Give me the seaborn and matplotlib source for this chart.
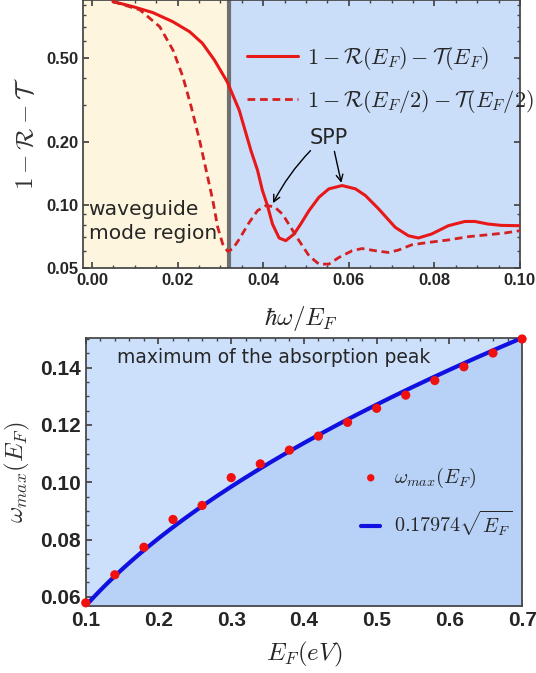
import numpy as np
import pandas as pd
import matplotlib
matplotlib.use("Agg")
import matplotlib.pyplot as plt
import seaborn as sns
from matplotlib.ticker import MultipleLocator, FixedLocator, LogLocator, NullFormatter

# ---------------- data ----------------
x_solid = [0.00488, 0.00953, 0.01419, 0.01884, 0.0228, 0.0258, 0.0286, 0.0316, 0.0344,
           0.03714, 0.03867, 0.03981, 0.0410, 0.04216, 0.04372, 0.04527, 0.04721,
           0.04877, 0.0507, 0.05302, 0.05535, 0.05844, 0.06156, 0.06388, 0.06698,
           0.07086, 0.07395, 0.07628, 0.07937, 0.08326, 0.08714, 0.08947, 0.09256,
           0.09565, 0.1000]
y_solid = [0.930, 0.880, 0.824, 0.746, 0.668, 0.588, 0.489, 0.385, 0.282,
           0.181, 0.146, 0.117, 0.099, 0.0809, 0.0694, 0.0674, 0.0725,
           0.0809, 0.0937, 0.1085, 0.119, 0.1234, 0.119, 0.1106, 0.0955,
           0.078, 0.0711, 0.0694, 0.0725, 0.0794, 0.0832, 0.0832, 0.0809,
           0.0797, 0.0794]

x_dash = [0.00488, 0.01116, 0.01581, 0.01891, 0.02123, 0.02319, 0.02512, 0.02667,
          0.02821, 0.02937, 0.03053, 0.0317, 0.03286, 0.03442, 0.03674, 0.03867,
          0.04063, 0.04256, 0.04449, 0.04644, 0.04837, 0.0507, 0.05302, 0.05535,
          0.05767, 0.06077, 0.0631, 0.06698, 0.0693, 0.07163, 0.07472, 0.0786,
          0.08326, 0.08791, 0.09256, 0.09644, 0.1000]
y_dash = [0.930, 0.849, 0.706, 0.546, 0.407, 0.292, 0.203, 0.146,
          0.105, 0.078, 0.065, 0.0599, 0.0615, 0.0686, 0.0824, 0.0937,
          0.099, 0.0979, 0.0903, 0.078, 0.0674, 0.0571, 0.0521, 0.0521,
          0.056, 0.0603, 0.0618, 0.0600, 0.0592, 0.0608, 0.0644, 0.0661,
          0.0679, 0.0704, 0.0719, 0.0733, 0.0752]

waveguide_edge = 0.032
spp_points = [(0.0420, 0.099), (0.0584, 0.1234)]

EF = [0.10, 0.14, 0.18, 0.22, 0.26, 0.30, 0.34, 0.38, 0.42, 0.46, 0.50, 0.54,
      0.58, 0.62, 0.66, 0.70]
wmax = [0.0579, 0.0677, 0.0773, 0.0870, 0.0919, 0.1016, 0.1064, 0.1112, 0.1161,
        0.1209, 0.1258, 0.1304, 0.1355, 0.1403, 0.1451, 0.1500]
fit_coef = 0.17974

top_xticks = [0.00, 0.02, 0.04, 0.06, 0.08, 0.10]
top_yticks = [0.05, 0.10, 0.20, 0.50]
bot_xticks = [0.1, 0.2, 0.3, 0.4, 0.5, 0.6, 0.7]
bot_yticks = [0.06, 0.08, 0.10, 0.12, 0.14]

# ---------------- style ----------------
sns.set_theme(style="ticks")
plt.rcParams["font.family"] = ["DejaVu Sans"]
plt.rcParams["mathtext.fontset"] = "cm"

YELLOW = "#FDF5DE"
BLUE_TOP = "#CADEFA"
BLUE_LIGHT = "#CCE0FB"
BLUE_DARK = "#B8D2F7"
SPINE = "#444444"

fig = plt.figure(figsize=(5.36, 6.73), dpi=100)
ax1 = fig.add_axes([0.155, 0.602, 0.815, 0.398])
ax2 = fig.add_axes([0.160, 0.0996, 0.814, 0.3984])

# ---------------- top panel ----------------
df_s = pd.DataFrame({"x": x_solid, "y": y_solid})
df_d = pd.DataFrame({"x": x_dash, "y": y_dash})

ax1.set_yscale("log")
ax1.set_xlim(-0.0021, 0.1)
ax1.set_ylim(0.05, 0.946)
ax1.axvspan(-0.01, waveguide_edge, color=YELLOW, zorder=0, lw=0)
ax1.axvspan(waveguide_edge, 0.2, color=BLUE_TOP, zorder=0, lw=0)
ax1.axvline(waveguide_edge, color="#707070", lw=3, zorder=1)

sns.lineplot(data=df_s, x="x", y="y", ax=ax1, color="#E81818", lw=2.2,
             label=r"$1-\mathcal{R}(E_F)-\mathcal{T}(E_F)$", sort=False, zorder=3)
sns.lineplot(data=df_d, x="x", y="y", ax=ax1, color="#D42020", lw=2.0,
             linestyle=(0, (2.8, 1.7)), sort=False, zorder=3,
             label=r"$1-\mathcal{R}(E_F/2)-\mathcal{T}(E_F/2)$")
for ln in ax1.get_lines():
    ln.set_solid_joinstyle("round")
    ln.set_solid_capstyle("round")

ax1.set_xticks(top_xticks)
ax1.set_xticklabels([f"{v:.2f}" for v in top_xticks])
ax1.xaxis.set_minor_locator(MultipleLocator(0.005))
ax1.yaxis.set_major_locator(FixedLocator(top_yticks))
ax1.set_yticklabels([f"{v:.2f}" for v in top_yticks])
ax1.yaxis.set_minor_locator(LogLocator(base=10, subs=np.arange(2, 10)))
ax1.yaxis.set_minor_formatter(NullFormatter())
ax1.tick_params(which="both", direction="in", top=True, right=True, color=SPINE)
ax1.tick_params(which="major", length=4)
ax1.tick_params(which="minor", length=2.5)
for lab in ax1.get_xticklabels() + ax1.get_yticklabels():
    lab.set_fontfamily("Liberation Sans")
    lab.set_fontsize(12)
    lab.set_fontweight("semibold")
ax1.set_xlabel(r"$\hbar\omega/E_F$", fontsize=18, labelpad=12)
ax1.set_ylabel(r"$1-\mathcal{R}-\mathcal{T}$", fontsize=18, labelpad=6, color="#333333")
for sp in ax1.spines.values():
    sp.set_color(SPINE)

ax1.text(-0.0008, 0.083, "waveguide\nmode region", fontsize=14.6, va="center",
         ha="left", linespacing=1.3, zorder=4)

ax1.annotate("", xy=spp_points[0], xytext=(0.0515, 0.185),
             arrowprops=dict(arrowstyle="->", color="black", lw=1,
                             connectionstyle="arc3,rad=0.08"), zorder=5)
ax1.annotate("", xy=spp_points[1], xytext=(0.0565, 0.185),
             arrowprops=dict(arrowstyle="->", color="black", lw=1), zorder=5)
ax1.text(0.0553, 0.207, "SPP", fontsize=15, ha="center", va="center", zorder=5)

leg1 = ax1.legend(loc="center left", bbox_to_anchor=(0.424, 0.881),
                  bbox_transform=fig.transFigure, frameon=False, fontsize=16,
                  handlelength=2.3, handletextpad=0.4, labelspacing=0.72)

# ---------------- bottom panel ----------------
df_p = pd.DataFrame({"EF": EF, "wmax": wmax})
e_grid = np.linspace(0.1, 0.7, 200)
df_fit = pd.DataFrame({"EF": e_grid, "fit": fit_coef * np.sqrt(e_grid)})

ax2.set_facecolor(BLUE_LIGHT)
ax2.set_xlim(0.1, 0.7)
ax2.set_ylim(0.0568, 0.1504)
ax2.fill_between(df_fit["EF"], df_fit["fit"], 0, color=BLUE_DARK, lw=0, zorder=1)
sns.lineplot(data=df_fit, x="EF", y="fit", ax=ax2, color="#1010E0", lw=3,
             label=r"$0.17974\sqrt{E_F}$", zorder=3)
sns.scatterplot(data=df_p, x="EF", y="wmax", ax=ax2, color="#F01010", s=44,
                edgecolor="none", label=r"$\omega_{max}(E_F)$", zorder=4, clip_on=False)

ax2.set_xticks(bot_xticks)
ax2.set_xticklabels([f"{v:.1f}" for v in bot_xticks])
ax2.set_yticks(bot_yticks)
ax2.set_yticklabels([f"{v:.2f}" for v in bot_yticks])
ax2.xaxis.set_minor_locator(MultipleLocator(0.02))
ax2.yaxis.set_minor_locator(MultipleLocator(0.005))
ax2.tick_params(which="both", direction="in", top=True, right=True, color=SPINE)
ax2.tick_params(which="major", length=4)
ax2.tick_params(which="minor", length=2.5)
for lab in ax2.get_xticklabels() + ax2.get_yticklabels():
    lab.set_fontfamily("Liberation Sans")
    lab.set_fontsize(15)
    lab.set_fontweight("bold")
ax2.set_xlabel(r"$E_F(eV)$", fontsize=18, labelpad=7)
ax2.set_ylabel(r"$\omega_{max}(E_F)$", fontsize=18, labelpad=6, color="#333333")
for sp in ax2.spines.values():
    sp.set_color(SPINE)

ax2.text(0.143, 0.1436, "maximum of the absorption peak", fontsize=13.5,
         ha="left", va="center", zorder=5)

h, l = ax2.get_legend_handles_labels()
leg2 = ax2.legend([h[1], h[0]], [l[1], l[0]], loc="center left",
                  bbox_to_anchor=(0.640, 0.253), bbox_transform=fig.transFigure,
                  frameon=False, fontsize=14.5, handlelength=0.95, handletextpad=0.7,
                  labelspacing=0.95, markerscale=0.8)

fig.savefig("out.png", dpi=100)
